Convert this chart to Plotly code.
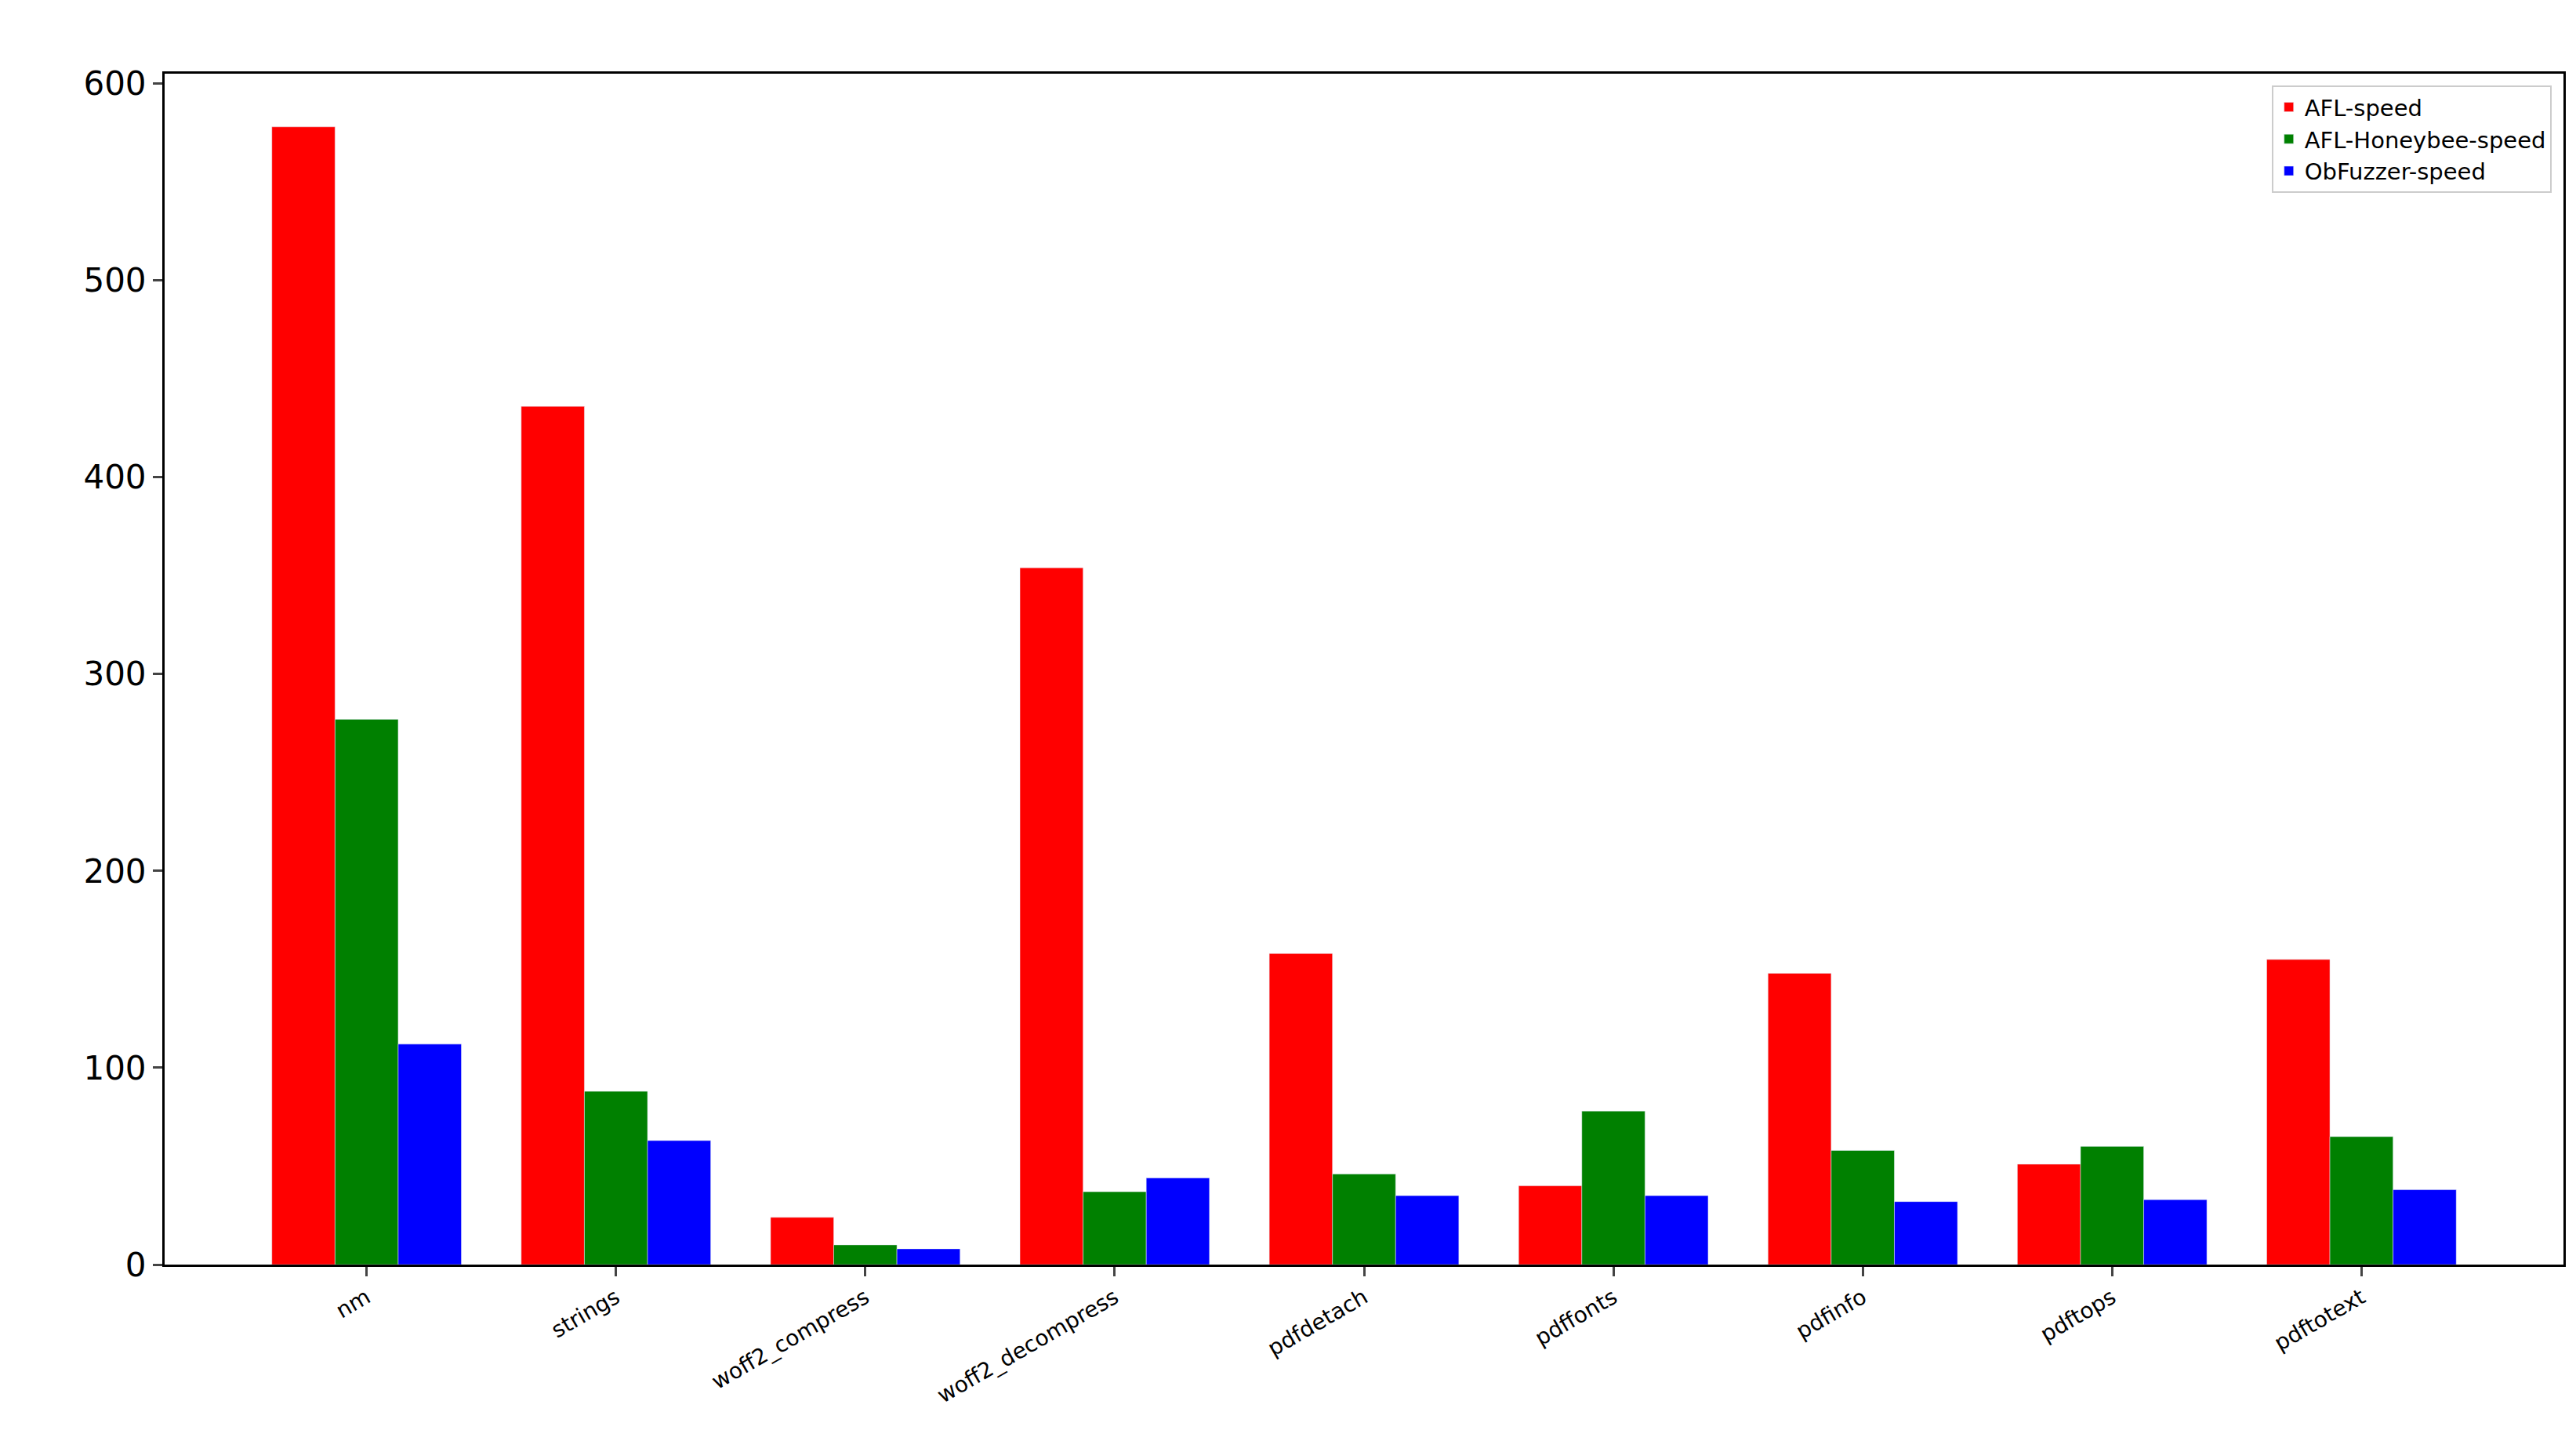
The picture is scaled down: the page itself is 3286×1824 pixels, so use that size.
import plotly.graph_objects as go

programs = ["nm", "strings", "woff2_compress", "woff2_decompress", "pdfdetach",
            "pdffonts", "pdfinfo", "pdftops", "pdftotext"]
afl_speed = [578, 436, 24, 354, 158, 40, 148, 51, 155]
honeybee_speed = [277, 88, 10, 37, 46, 78, 58, 60, 65]
obfuzzer_speed = [112, 63, 8, 44, 35, 35, 32, 33, 38]

fig = go.Figure()
fig.add_bar(x=programs, y=afl_speed, name="AFL-speed", marker_color="#ff0000")
fig.add_bar(x=programs, y=honeybee_speed, name="AFL-Honeybee-speed", marker_color="#008000")
fig.add_bar(x=programs, y=obfuzzer_speed, name="ObFuzzer-speed", marker_color="#0000ff")

fig.update_layout(
    width=3286, height=1824,
    barmode="group", bargap=0.24, bargroupgap=0,
    plot_bgcolor="white", paper_bgcolor="white",
    margin=dict(l=202, r=24, t=86, b=219),
    font=dict(family="DejaVu Sans", color="black"),
    legend=dict(x=0.995, y=0.99, xanchor="right", yanchor="top",
                bordercolor="#cccccc", borderwidth=2, font=dict(size=29),
                bgcolor="white"),
)
fig.update_xaxes(range=[-0.81, 8.81], tickangle=-30, tickfont=dict(size=28),
                 showline=True, linecolor="black", linewidth=3, mirror=True,
                 ticks="outside", ticklen=12, tickwidth=3, showgrid=False)
fig.update_yaxes(range=[0, 605], dtick=100, tickfont=dict(size=42),
                 showline=True, linecolor="black", linewidth=3, mirror=True,
                 ticks="outside", ticklen=12, tickwidth=3, showgrid=False, zeroline=False)

fig.write_html("out.html")
